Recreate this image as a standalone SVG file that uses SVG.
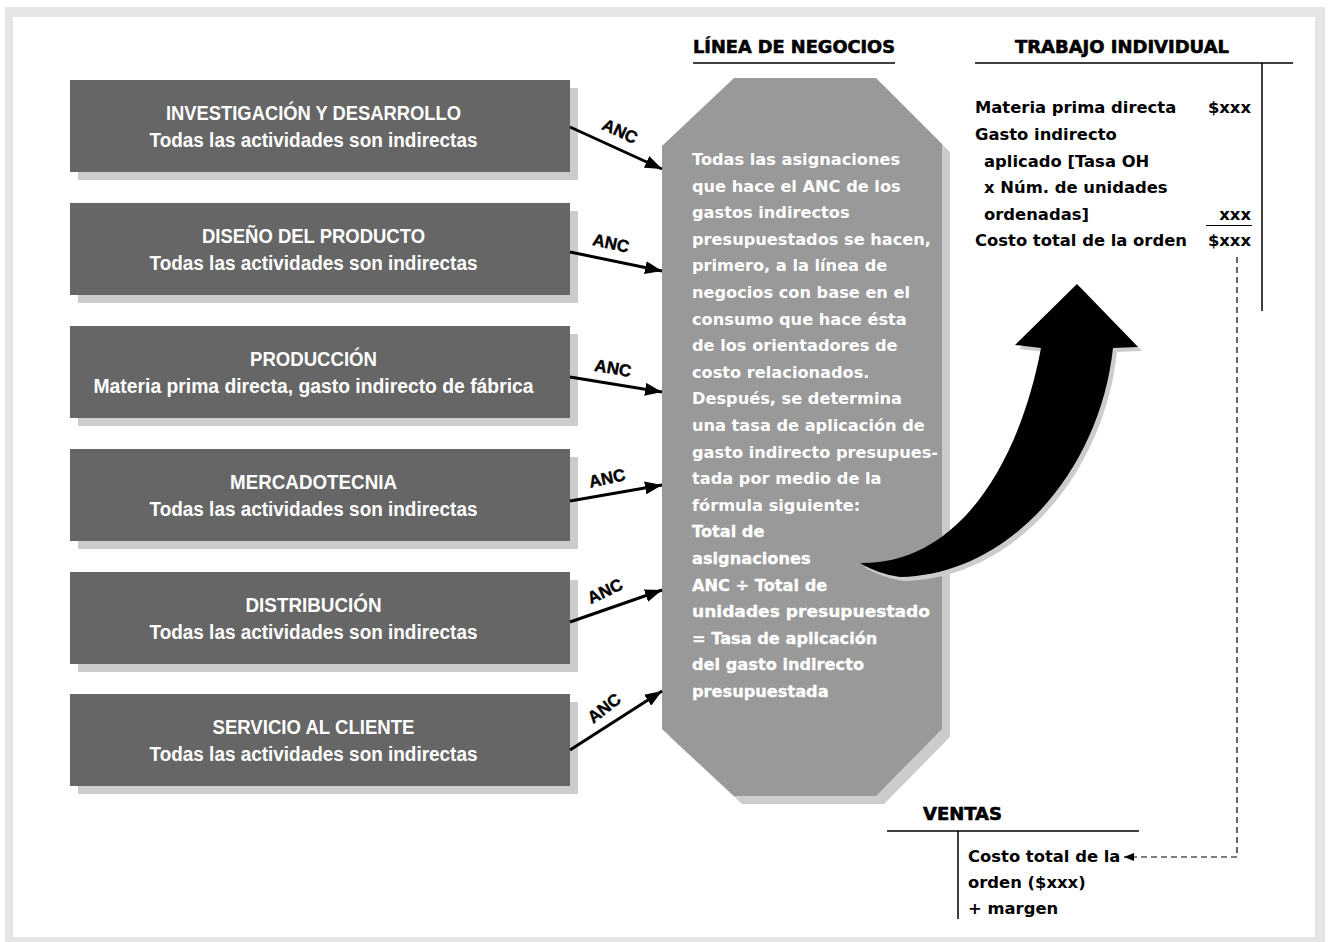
<svg xmlns="http://www.w3.org/2000/svg" width="1330" height="942" viewBox="0 0 1330 942">
<style>
.box{fill:#666666}
.sh{fill:#cccccc}
.bt{font-family:"Liberation Sans",Arial,sans-serif;font-weight:bold;font-size:20px;fill:#ffffff;text-anchor:middle}
.anc{font-family:"Liberation Sans",Arial,sans-serif;font-weight:bold;font-size:17px;fill:#000;text-anchor:middle;stroke:#000;stroke-width:0.4}
.hd{font-family:"DejaVu Sans",sans-serif;font-weight:bold;font-size:17.7px;fill:#000;stroke:#000;stroke-width:0.6}
.oc{font-family:"DejaVu Sans",sans-serif;font-weight:bold;font-size:16.2px;fill:#ffffff}
.ocb{stroke:#ffffff;stroke-width:0.3}
.rt{font-family:"DejaVu Sans",sans-serif;font-weight:bold;font-size:16.4px;fill:#000}
.ln{stroke:#000;stroke-width:1.5;fill:none}
.arr{stroke:#000;stroke-width:3;fill:none;marker-end:url(#ah)}
</style>
<defs>
<marker id="ah" markerUnits="userSpaceOnUse" markerWidth="18" markerHeight="13" refX="17" refY="6.5" orient="auto"><path d="M0,0 L17,6.5 L0,13 z" fill="#000"/></marker>
<marker id="sa" markerUnits="userSpaceOnUse" markerWidth="11" markerHeight="8" refX="10" refY="4" orient="auto"><path d="M0,0 L10,4 L0,8 z" fill="#000"/></marker>
</defs>
<rect x="5" y="7" width="1320" height="935" fill="#e6e6e6"/>
<rect x="13" y="17" width="1302" height="920" fill="#ffffff"/>

<g id="n1"><rect class="sh" x="78" y="88" width="500" height="92"/><rect class="box" x="70" y="80" width="500" height="92"/>
<text class="bt" x="313.5" y="120" textLength="295" lengthAdjust="spacingAndGlyphs">INVESTIGACIÓN Y DESARROLLO</text>
<text class="bt" x="313.5" y="147" textLength="328" lengthAdjust="spacingAndGlyphs">Todas las actividades son indirectas</text></g>
<g id="n2"><rect class="sh" x="78" y="211" width="500" height="92"/><rect class="box" x="70" y="203" width="500" height="92"/>
<text class="bt" x="313.5" y="243" textLength="223" lengthAdjust="spacingAndGlyphs">DISEÑO DEL PRODUCTO</text>
<text class="bt" x="313.5" y="270" textLength="328" lengthAdjust="spacingAndGlyphs">Todas las actividades son indirectas</text></g>
<g id="n3"><rect class="sh" x="78" y="334" width="500" height="92"/><rect class="box" x="70" y="326" width="500" height="92"/>
<text class="bt" x="313.5" y="366" textLength="127" lengthAdjust="spacingAndGlyphs">PRODUCCIÓN</text>
<text class="bt" x="313.5" y="393" textLength="440" lengthAdjust="spacingAndGlyphs">Materia prima directa, gasto indirecto de fábrica</text></g>
<g id="n4"><rect class="sh" x="78" y="457" width="500" height="92"/><rect class="box" x="70" y="449" width="500" height="92"/>
<text class="bt" x="313.5" y="489" textLength="167" lengthAdjust="spacingAndGlyphs">MERCADOTECNIA</text>
<text class="bt" x="313.5" y="516" textLength="328" lengthAdjust="spacingAndGlyphs">Todas las actividades son indirectas</text></g>
<g id="n5"><rect class="sh" x="78" y="580" width="500" height="92"/><rect class="box" x="70" y="572" width="500" height="92"/>
<text class="bt" x="313.5" y="612" textLength="136" lengthAdjust="spacingAndGlyphs">DISTRIBUCIÓN</text>
<text class="bt" x="313.5" y="639" textLength="328" lengthAdjust="spacingAndGlyphs">Todas las actividades son indirectas</text></g>
<g id="n6"><rect class="sh" x="78" y="702" width="500" height="92"/><rect class="box" x="70" y="694" width="500" height="92"/>
<text class="bt" x="313.5" y="734" textLength="202" lengthAdjust="spacingAndGlyphs">SERVICIO AL CLIENTE</text>
<text class="bt" x="313.5" y="761" textLength="328" lengthAdjust="spacingAndGlyphs">Todas las actividades son indirectas</text></g>

<g id="linea">
<text class="hd" x="693" y="53" textLength="202" lengthAdjust="spacingAndGlyphs">LÍNEA DE NEGOCIOS</text>
<line class="ln" x1="693" y1="63" x2="895" y2="63"/>
<polygon class="sh" points="742,86 884,86 950,152 950,737 884,804 742,804 670,737 670,154"/>
<polygon fill="#999999" points="734,78 876,78 942,144 942,729 876,796 734,796 662,729 662,146"/>
<g class="oc">
<text x="692" y="165">Todas las asignaciones</text>
<text x="692" y="191.6">que hace el ANC de los</text>
<text x="692" y="218.2">gastos indirectos</text>
<text x="692" y="244.8">presupuestados se hacen,</text>
<text x="692" y="271.4">primero, a la línea de</text>
<text x="692" y="298">negocios con base en el</text>
<text x="692" y="324.6">consumo que hace ésta</text>
<text x="692" y="351.2">de los orientadores de</text>
<text x="692" y="377.8">costo relacionados.</text>
<text x="692" y="404.4">Después, se determina</text>
<text x="692" y="431">una tasa de aplicación de</text>
<text x="692" y="457.6">gasto indirecto presupues-</text>
<text x="692" y="484.2">tada por medio de la</text>
<text x="692" y="510.8">fórmula siguiente:</text>
<g class="ocb">
<text x="692" y="537.4">Total de</text>
<text x="692" y="564">asignaciones</text>
<text x="692" y="590.6">ANC ÷ Total de</text>
<text x="692" y="617.2" textLength="238" lengthAdjust="spacingAndGlyphs">unidades presupuestado</text>
<text x="692" y="643.8">= Tasa de aplicación</text>
<text x="692" y="670.4">del gasto indirecto</text>
<text x="692" y="697">presupuestada</text>
</g>
</g>
</g>

<g id="curva">
<path transform="translate(4,4)" fill="#cccccc" d="M860,563 C960,565 1020,460 1041,348 L1015,345 L1077,284 L1138,347 L1113,348 C1100,470 1010,575 900,577 Q878,574 860,563 Z"/>
<path fill="#000000" d="M860,563 C960,565 1020,460 1041,348 L1015,345 L1077,284 L1138,347 L1113,348 C1100,470 1010,575 900,577 Q878,574 860,563 Z"/>
</g>

<g id="trabajo">
<text class="hd" x="1015" y="53" textLength="214" lengthAdjust="spacingAndGlyphs">TRABAJO INDIVIDUAL</text>
<line class="ln" x1="975" y1="63" x2="1293" y2="63"/>
<line class="ln" x1="1262" y1="63" x2="1262" y2="311"/>
<g class="rt">
<text x="975" y="113">Materia prima directa</text>
<text x="1251" y="113" text-anchor="end">$xxx</text>
<text x="975" y="140">Gasto indirecto</text>
<text x="984" y="166.5">aplicado [Tasa OH</text>
<text x="984" y="193">x Núm. de unidades</text>
<text x="984" y="219.5">ordenadas]</text>
<text x="1251" y="219.5" text-anchor="end">xxx</text>
<text x="975" y="246">Costo total de la orden</text>
<text x="1251" y="246" text-anchor="end">$xxx</text>
</g>
<line stroke="#000" stroke-width="1.2" x1="1206" y1="225.5" x2="1252" y2="225.5"/>
</g>

<g id="ventas">
<text class="hd" x="923" y="820" textLength="79" lengthAdjust="spacingAndGlyphs">VENTAS</text>
<line class="ln" x1="887" y1="831" x2="1139" y2="831"/>
<line class="ln" x1="958" y1="831" x2="958" y2="919"/>
<g class="rt">
<text x="968" y="862">Costo total de la</text>
<text x="968" y="888">orden ($xxx)</text>
<text x="968" y="914">+ margen</text>
</g>
</g>

<g id="connectors">
<line class="arr" x1="570" y1="127" x2="662" y2="169"/>
<line class="arr" x1="570" y1="252" x2="662" y2="271"/>
<line class="arr" x1="570" y1="377" x2="662" y2="392"/>
<line class="arr" x1="570" y1="501" x2="662" y2="485"/>
<line class="arr" x1="570" y1="622" x2="662" y2="590"/>
<line class="arr" x1="570" y1="750" x2="662" y2="691"/>
<text class="anc" transform="translate(620,131) rotate(25)" y="6">ANC</text>
<text class="anc" transform="translate(611,243) rotate(12)" y="6">ANC</text>
<text class="anc" transform="translate(613,368) rotate(10)" y="6">ANC</text>
<text class="anc" transform="translate(607,478) rotate(-12)" y="6">ANC</text>
<text class="anc" transform="translate(605,591) rotate(-25)" y="6">ANC</text>
<text class="anc" transform="translate(604,708) rotate(-38)" y="6">ANC</text>
<path d="M1237,257 V857 H1124" fill="none" stroke="#000" stroke-width="1.2" stroke-dasharray="6 4" marker-end="url(#sa)"/>
</g>
</svg>
